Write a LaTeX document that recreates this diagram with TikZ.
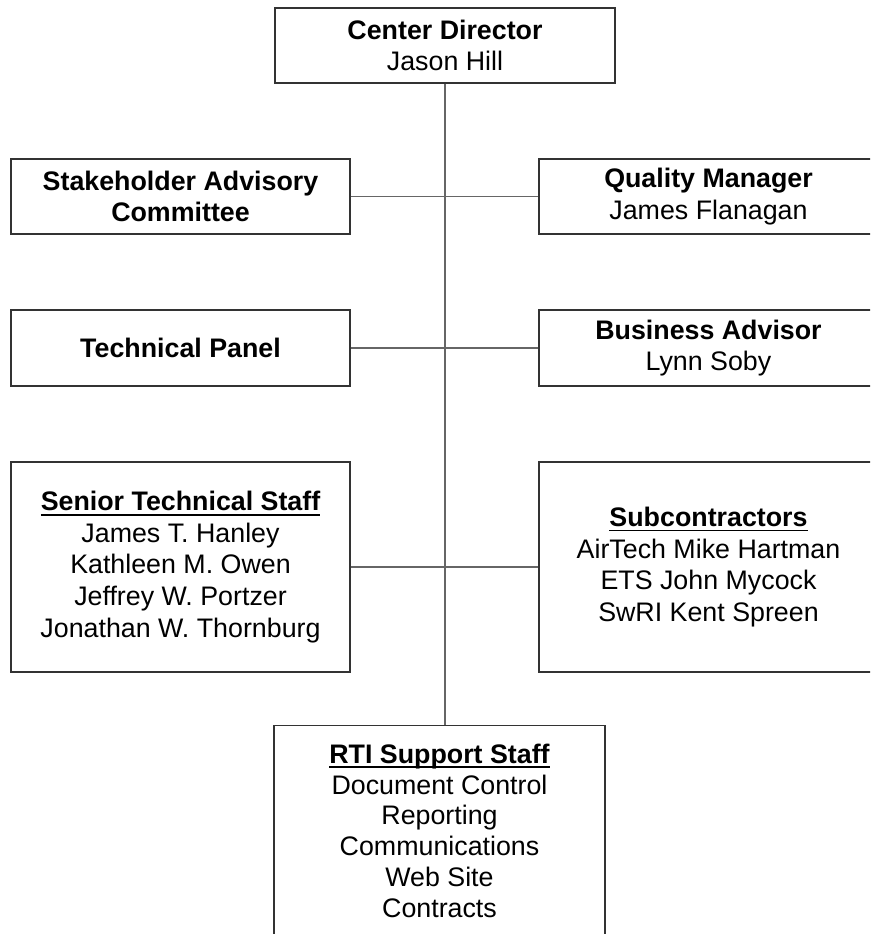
\documentclass[tikz,border=0pt]{standalone}
\usepackage{fontspec}
\setmainfont{Liberation Sans}
\newcommand\myul[1]{\setbox0\hbox{#1}\rlap{\rule[-5pt]{\wd0}{1.8pt}}\box0}
\newcommand\boxfont{\fontsize{26.8pt}{31.7pt}\selectfont}
\newcommand\rtifont{\fontsize{26.8pt}{30.8pt}\selectfont}
\tikzset{
  orgbox/.style={draw=black!80, line width=1.3pt, minimum width=339pt, minimum height=75pt,
    align=center, inner sep=0pt, font=\boxfont, fill=white},
  link/.style={draw=black!60, line width=1.1pt}
}
\begin{document}
\begin{tikzpicture}[x=1pt,y=-1pt]
\useasboundingbox (0,0) rectangle (870,934);
\clip (0,0) rectangle (870,934);
\fill[white] (0,0) rectangle (870,934);

\node[orgbox, minimum width=340pt] (top) at (445,45.5) {\textbf{Center Director}\\Jason Hill};
\node[orgbox] (stake) at (180.5,196.5) {\textbf{Stakeholder Advisory}\\\textbf{Committee}};
\node[orgbox] (quality) at (708.5,196.5) {\textbf{Quality Manager}\\James Flanagan};
\node[orgbox, minimum height=76pt] (tech) at (180.5,348) {\textbf{Technical Panel}};
\node[orgbox, minimum height=76pt] (biz) at (708.5,348) {\textbf{Business Advisor}\\Lynn Soby};
\node[orgbox, minimum height=210pt] (senior) at (180.5,567) {\textbf{\myul{Senior Technical Staff}}\\James T. Hanley\\Kathleen M. Owen\\Jeffrey W. Portzer\\Jonathan W. Thornburg};
\node[orgbox, minimum height=210pt] (sub) at (708.5,567) {\textbf{\myul{Subcontractors}}\\AirTech Mike Hartman\\ETS John Mycock\\SwRI Kent Spreen};
\node[orgbox, anchor=north, minimum width=331pt] (rti) at (439.5,725) {\parbox[t][260pt][t]{331pt}{\centering\rtifont\vspace*{16pt}\strut\textbf{\myul{RTI Support Staff}}\\Document Control\\Reporting\\Communications\\Web Site\\Contracts}};

\draw[link] (top.south) -- (top.south |- rti.north);
\draw[link] (stake.east) -- (quality.west);
\draw[link] (tech.east) -- (biz.west);
\draw[link] (senior.east) -- (sub.west);
\end{tikzpicture}
\end{document}
